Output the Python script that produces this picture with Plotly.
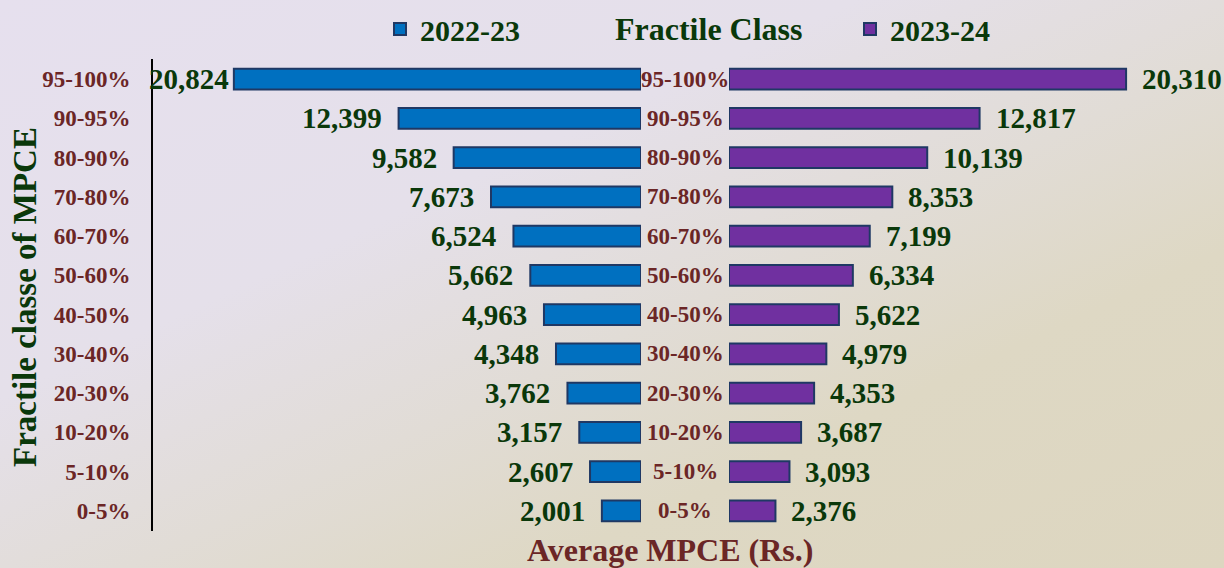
import base64
import plotly.graph_objects as go

# ---------------- data ----------------
categories = ["95-100%", "90-95%", "80-90%", "70-80%", "60-70%", "50-60%",
              "40-50%", "30-40%", "20-30%", "10-20%", "5-10%", "0-5%"]
mpce_2022_23 = [20824, 12399, 9582, 7673, 6524, 5662, 4963, 4348, 3762, 3157, 2607, 2001]
mpce_2023_24 = [20310, 12817, 10139, 8353, 7199, 6334, 5622, 4979, 4353, 3687, 3093, 2376]
series_names = ["2022-23", "2023-24"]

# ---------------- style ----------------
W, H = 1224, 568
FONT = "Liberation Serif"
GREEN = "#0A380A"
MAROON = "#6B2626"
BLUE = "#0070C0"
PURPLE = "#7030A0"
EDGE = "#1F3864"
XMAX = 24960

left_dom = [153 / W, 641 / W]
right_dom = [729 / W, 1217 / W]
y_dom = [1 - 530.6 / H, 1 - 59.4 / H]

svg = f'''<svg xmlns="http://www.w3.org/2000/svg" width="{W}" height="{H}" viewBox="0 0 {W} {H}" preserveAspectRatio="none">
<defs><linearGradient id="g" x1="0" y1="0" x2="1" y2="1">
<stop offset="0" stop-color="#E6E0EE"/>
<stop offset="0.35" stop-color="#E5E0EA"/>
<stop offset="0.55" stop-color="#E1DCD6"/>
<stop offset="0.72" stop-color="#DED8C4"/>
<stop offset="1" stop-color="#DDD6C0"/>
</linearGradient></defs>
<rect x="0" y="0" width="{W}" height="{H}" fill="url(#g)"/></svg>'''
bg_uri = "data:image/svg+xml;base64," + base64.b64encode(svg.encode()).decode()

fig = go.Figure()
fig.add_trace(go.Bar(
    y=categories, x=mpce_2022_23, orientation="h", name=series_names[0],
    marker=dict(color=BLUE, line=dict(color=EDGE, width=2)),
    width=0.53, xaxis="x", yaxis="y", legend="legend", hoverinfo="x+y",
))
fig.add_trace(go.Bar(
    y=categories, x=mpce_2023_24, orientation="h", name=series_names[1],
    marker=dict(color=PURPLE, line=dict(color=EDGE, width=2)),
    width=0.53, xaxis="x2", yaxis="y", legend="legend2", hoverinfo="x+y",
))

annotations = []
lab_font = dict(family=FONT, size=29, color=GREEN, weight="bold")
for cat, v in zip(categories, mpce_2022_23):
    annotations.append(dict(
        x=v, y=cat, xref="x", yref="y", text=f"{v:,}", showarrow=False,
        xanchor="right", yanchor="middle", xshift=-3 if v > 20000 else -15,
        font=lab_font,
    ))
for cat, v in zip(categories, mpce_2023_24):
    annotations.append(dict(
        x=v, y=cat, xref="x2", yref="y", text=f"{v:,}", showarrow=False,
        xanchor="left", yanchor="middle", xshift=14, font=lab_font,
    ))
for cat in categories:
    annotations.append(dict(
        x=685 / W, y=cat, xref="paper", yref="y", text=cat, showarrow=False,
        xanchor="center", yanchor="middle",
        font=dict(family=FONT, size=23, color=MAROON, weight="bold"),
    ))
annotations.append(dict(
    x=709 / W, y=1 - 29 / H, xref="paper", yref="paper", text="Fractile Class",
    showarrow=False, xanchor="center", yanchor="middle",
    font=dict(family=FONT, size=32, color=GREEN, weight="bold"),
))
annotations.append(dict(
    x=670 / W, y=1 - 550 / H, xref="paper", yref="paper", text="Average MPCE (Rs.)",
    showarrow=False, xanchor="center", yanchor="middle",
    font=dict(family=FONT, size=32, color=MAROON, weight="bold"),
))
annotations.append(dict(
    x=25 / W, y=1 - 297 / H, xref="paper", yref="paper", text="Fractile classe of MPCE",
    showarrow=False, xanchor="center", yanchor="middle", textangle=-90,
    font=dict(family=FONT, size=33, color=GREEN, weight="bold"),
))

leg_font = dict(family=FONT, size=30, color=GREEN, weight="bold")
fig.update_layout(
    width=W, height=H, autosize=False,
    margin=dict(l=0, r=0, t=0, b=0),
    paper_bgcolor="#E3DED8", plot_bgcolor="rgba(0,0,0,0)",
    images=[dict(source=bg_uri, xref="paper", yref="paper", x=0, y=1,
                 sizex=1, sizey=1, sizing="stretch", layer="below",
                 xanchor="left", yanchor="top")],
    barmode="overlay",
    xaxis=dict(domain=left_dom, range=[XMAX, 0], anchor="y", visible=False, fixedrange=True),
    xaxis2=dict(domain=right_dom, range=[0, XMAX], anchor="y", visible=False, fixedrange=True),
    yaxis=dict(domain=y_dom, range=[11.5, -0.5], anchor="x", type="category",
               showline=True, linecolor="black", linewidth=2, showgrid=False,
               zeroline=False, ticks="outside", ticklen=16, tickcolor="rgba(0,0,0,0)",
               tickfont=dict(family=FONT, size=23, color=MAROON, weight="bold"),
               fixedrange=True),
    legend=dict(x=380 / W, y=1 - 29 / H, xanchor="left", yanchor="middle",
                orientation="h", bgcolor="rgba(0,0,0,0)", font=leg_font, itemwidth=30),
    legend2=dict(x=850 / W, y=1 - 29 / H, xanchor="left", yanchor="middle",
                 orientation="h", bgcolor="rgba(0,0,0,0)", font=leg_font, itemwidth=30),
    annotations=annotations,
    showlegend=True,
)

fig.write_html(
    "out.html",
    config={"displayModeBar": False},
    post_script="document.body.style.margin='0';document.body.style.overflow='hidden';",
)
